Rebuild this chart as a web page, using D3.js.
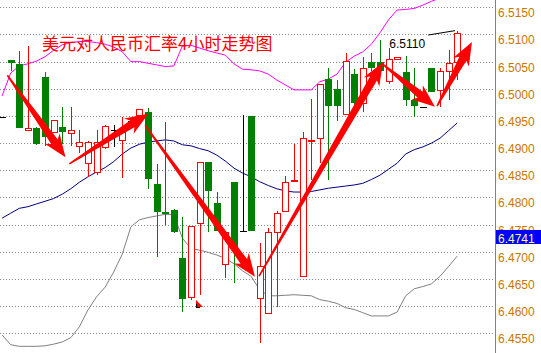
<!DOCTYPE html>
<html>
<head>
<meta charset="utf-8">
<script src="https://cdn.jsdelivr.net/npm/d3@7"></script>
<style>
  html, body { margin: 0; padding: 0; background: #fff; }
  svg { display: block; }
</style>
</head>
<body>
<div id="chart"></div>
<script>
const title = "美元对人民币汇率4小时走势图";

// 4h candles, oldest first
const open  = [6.4948, 6.5053, 6.5046, 6.4924, 6.4928, 6.5022, 6.4921, 6.4930, 6.4918, 6.4895,
               6.4863, 6.4847, 6.4893, 6.4924, 6.4906, 6.4940, 6.4952, 6.4957, 6.4825, 6.4773,
               6.4777, 6.4689, 6.4617, 6.4753, 6.4865, 6.4789, 6.4677, 6.4829, 6.4738, 6.4950,
               6.4615, 6.4587, 6.4736, 6.4776, 6.4831, 6.4656, 6.4905, 6.4909, 6.5018, 6.5000,
               6.4954, 6.5027, 6.4973, 6.5049, 6.5049, 6.5015, 6.5054, 6.5030, 6.4979, 6.4966,
               6.5038, 6.4998, 6.5033, 6.5050];
const high  = [6.4948, 6.5053, 6.5070, 6.5079, 6.4929, 6.5030, 6.4943, 6.4967, 6.4966, 6.4924,
               6.4904, 6.4924, 6.4934, 6.4934, 6.4949, 6.4945, 6.4963, 6.4964, 6.4862, 6.4938,
               6.4778, 6.4764, 6.4748, 6.4866, 6.4865, 6.4810, 6.4737, 6.4829, 6.4952, 6.4950,
               6.4716, 6.4744, 6.4776, 6.4840, 6.4898, 6.4920, 6.4981, 6.5008, 6.5038, 6.5016,
               6.5065, 6.5036, 6.5058, 6.5065, 6.5090, 6.5076, 6.5058, 6.5060, 6.5038, 6.4966,
               6.5038, 6.5038, 6.5071, 6.5107];
const low   = [6.4948, 6.5033, 6.4927, 6.4924, 6.4897, 6.4895, 6.4918, 6.4898, 6.4895, 6.4882,
               6.4838, 6.4841, 6.4890, 6.4895, 6.4835, 6.4935, 6.4951, 6.4815, 6.4690, 6.4749,
               6.4735, 6.4590, 6.4611, 6.4621, 6.4736, 6.4739, 6.4651, 6.4643, 6.4738, 6.4739,
               6.4533, 6.4587, 6.4599, 6.4776, 6.4828, 6.4656, 6.4832, 6.4863, 6.4832, 6.4941,
               6.4954, 6.4958, 6.4958, 6.5033, 6.5033, 6.5008, 6.5054, 6.4969, 6.4948, 6.4966,
               6.4994, 6.4967, 6.4979, 6.5016];
const close = [6.4948, 6.5047, 6.4928, 6.4928, 6.4898, 6.4912, 6.4943, 6.4921, 6.4924, 6.4903,
               6.4903, 6.4902, 6.4932, 6.4924, 6.4921, 6.4940, 6.4962, 6.4834, 6.4774, 6.4770,
               6.4736, 6.4613, 6.4748, 6.4866, 6.4811, 6.4739, 6.4737, 6.4707, 6.4738, 6.4739,
               6.4673, 6.4736, 6.4771, 6.4829, 6.4832, 6.4909, 6.4906, 6.5008, 6.4969, 6.4969,
               6.5052, 6.4973, 6.5038, 6.5039, 6.5033, 6.5054, 6.5058, 6.4979, 6.4969, 6.4966,
               6.4995, 6.5033, 6.5047, 6.5102];

// Bollinger bands
const bandUpper  = [6.4987, 6.5029, 6.5042, 6.5046, 6.5051, 6.5059, 6.5071, 6.5081, 6.5085, 6.5087,
                    6.5087, 6.5085, 6.5082, 6.5077, 6.5068, 6.5050, 6.5050, 6.5047, 6.5044, 6.5041,
                    6.5042, 6.5079, 6.5080, 6.5075, 6.5070, 6.5066, 6.5062, 6.5046, 6.5036, 6.5035,
                    6.5033, 6.5027, 6.5016, 6.5007, 6.4998, 6.4998, 6.4998, 6.5013, 6.5018, 6.5027,
                    6.5049, 6.5060, 6.5068, 6.5082, 6.5103, 6.5127, 6.5145, 6.5146, 6.5148, 6.5154,
                    6.5161, 6.5167, 6.5173, 6.5178];
const bandMiddle = [6.4762, 6.4771, 6.4780, 6.4783, 6.4788, 6.4793, 6.4798, 6.4806, 6.4816, 6.4828,
                    6.4838, 6.4847, 6.4855, 6.4866, 6.4880, 6.4891, 6.4898, 6.4902, 6.4904, 6.4906,
                    6.4904, 6.4897, 6.4895, 6.4890, 6.4886, 6.4878, 6.4867, 6.4854, 6.4845, 6.4838,
                    6.4829, 6.4822, 6.4816, 6.4812, 6.4810, 6.4810, 6.4811, 6.4814, 6.4817, 6.4819,
                    6.4821, 6.4823, 6.4826, 6.4833, 6.4841, 6.4852, 6.4863, 6.4880, 6.4888, 6.4893,
                    6.4900, 6.4909, 6.4923, 6.4937];
const bandLower  = [6.4547, 6.4529, 6.4526, 6.4526, 6.4526, 6.4527, 6.4530, 6.4534, 6.4542, 6.4562,
                    6.4593, 6.4617, 6.4635, 6.4663, 6.4696, 6.4746, 6.4759, 6.4763, 6.4766, 6.4769,
                    6.4768, 6.4725, 6.4706, 6.4703, 6.4699, 6.4694, 6.4688, 6.4678, 6.4665, 6.4655,
                    6.4630, 6.4619, 6.4619, 6.4620, 6.4621, 6.4620, 6.4619, 6.4612, 6.4609, 6.4605,
                    6.4597, 6.4594, 6.4588, 6.4582, 6.4582, 6.4582, 6.4589, 6.4619, 6.4632, 6.4636,
                    6.4641, 6.4655, 6.4673, 6.4692];

const yTicks = [6.5150, 6.5100, 6.5050, 6.5000, 6.4950, 6.4900, 6.4850, 6.4800,
                6.4750, 6.4700, 6.4650, 6.4600, 6.4550];
const lastPrice = 6.4741;
const markText = "6.5110";

// hand-drawn arrows: [fromIndex, fromPrice, toIndex, toPrice]
const arrows = [
    [0.61, 6.5025, 7.38, 6.4874],
    [7.83, 6.4862, 17.03, 6.4954],
    [16.65, 6.4933, 29.45, 6.4654],
    [29.92, 6.4655, 44.36, 6.5049],
    [44.2, 6.5047, 50.41, 6.4967],
    [50.65, 6.4968, 54.72, 6.5086]
];
const highLine = [[49.63, 6.5099], [52.74, 6.5107]];

const width = 541, height = 353, plotRight = 495;

const svg = d3.select("#chart").append("svg")
    .attr("width", width)
    .attr("height", height)
    .style("background", "#fff");

const x = d3.scaleLinear().domain([0, 53]).range([2.1, 457.2]);
const y = d3.scaleLinear().domain([6.4550, 6.5150]).range([333.3, 7.3]);

svg.append("clipPath").attr("id", "plot")
    .append("rect").attr("x", 0).attr("y", 0).attr("width", plotRight).attr("height", height);

// dotted grid
svg.append("g")
    .call(d3.axisLeft(y).tickValues(yTicks).tickSize(-plotRight).tickFormat(""))
    .call(g => g.select(".domain").remove())
    .call(g => g.selectAll(".tick line")
        .attr("stroke", "#8a8a8a")
        .attr("stroke-dasharray", "1,2")
        .attr("shape-rendering", "crispEdges"));

const plot = svg.append("g").attr("clip-path", "url(#plot)");

// bands
const bandLine = d3.line().x((d, i) => x(i)).y(d => y(d));
[[bandUpper, "#ff00ff"], [bandMiddle, "#000080"], [bandLower, "#808080"]].forEach(([data, col]) => {
    plot.append("path")
        .datum(data)
        .attr("fill", "none")
        .attr("stroke", col)
        .attr("stroke-width", 1)
        .attr("d", bandLine);
});

// candles
const candles = d3.range(open.length).map(i => ({ i, o: open[i], h: high[i], l: low[i], c: close[i] }));
const cg = plot.append("g").attr("shape-rendering", "crispEdges");

candles.forEach(d => {
    const cx = Math.round(x(d.i));
    const yh = Math.round(y(d.h)), yl = Math.round(y(d.l));
    const yt = Math.round(y(Math.max(d.o, d.c))), yb = Math.round(y(Math.min(d.o, d.c)));
    if (d.c > d.o) {
        const col = "#ff0000";
        if (yh < yt) cg.append("line").attr("x1", cx + 0.5).attr("x2", cx + 0.5).attr("y1", yh).attr("y2", yt).attr("stroke", col);
        if (yl > yb) cg.append("line").attr("x1", cx + 0.5).attr("x2", cx + 0.5).attr("y1", yb).attr("y2", yl).attr("stroke", col);
        cg.append("rect")
            .attr("x", cx - 2.5).attr("y", yt + 0.5)
            .attr("width", 6).attr("height", Math.max(1, yb - yt))
            .attr("fill", "#fff").attr("stroke", col);
    } else if (d.c < d.o) {
        const col = "#008000";
        cg.append("line").attr("x1", cx + 0.5).attr("x2", cx + 0.5).attr("y1", yh).attr("y2", yl).attr("stroke", col);
        cg.append("rect")
            .attr("x", cx - 3).attr("y", yt)
            .attr("width", 7).attr("height", Math.max(1, yb - yt))
            .attr("fill", col);
    } else {
        cg.append("line").attr("x1", cx + 0.5).attr("x2", cx + 0.5).attr("y1", yh).attr("y2", yl + 1).attr("stroke", "#000");
        cg.append("line").attr("x1", cx - 3).attr("x2", cx + 4).attr("y1", yt + 0.5).attr("y2", yt + 0.5).attr("stroke", "#000");
    }
});

// short black line near last highs
plot.append("path")
    .datum(highLine)
    .attr("fill", "none")
    .attr("stroke", "#000")
    .attr("d", d3.line().x(d => x(d[0])).y(d => y(d[1])));

// small red marker
const mx = x(22.93), my = y(6.4602);
plot.append("path")
    .attr("d", `M${mx - 3},${my - 5} L${mx + 4},${my + 2} L${mx - 3},${my + 2} Z`)
    .attr("fill", "#ff0000");
plot.append("path")
    .attr("d", `M${mx - 3},${my + 2.5} L${mx + 1},${my + 2.5} M${mx - 2.5},${my - 1} L${mx - 2.5},${my + 3}`)
    .attr("stroke", "#000").attr("fill", "none");

// arrows
const tailW = 1.5, shaftW = 8, headW = 18, headLen = 19, barb = 4;
function arrowPoints(a) {
    const x0 = x(a[0]), y0 = y(a[1]), x1 = x(a[2]), y1 = y(a[3]);
    const len = Math.hypot(x1 - x0, y1 - y0);
    const ux = (x1 - x0) / len, uy = (y1 - y0) / len;
    const nx = -uy, ny = ux;
    const bx = x1 - ux * headLen, by = y1 - uy * headLen;
    const wx = bx - ux * barb, wy = by - uy * barb;
    return [
        [x0 + nx * tailW / 2, y0 + ny * tailW / 2],
        [bx + nx * shaftW / 2, by + ny * shaftW / 2],
        [wx + nx * headW / 2, wy + ny * headW / 2],
        [x1, y1],
        [wx - nx * headW / 2, wy - ny * headW / 2],
        [bx - nx * shaftW / 2, by - ny * shaftW / 2],
        [x0 - nx * tailW / 2, y0 - ny * tailW / 2]
    ];
}
svg.append("g").selectAll("path")
    .data(arrows)
    .join("path")
    .attr("d", d => d3.line()(arrowPoints(d)) + "Z")
    .attr("fill", "#ff0000");

// title and price note
svg.append("text")
    .attr("x", 42).attr("y", 50)
    .attr("font-family", "'Noto Sans CJK SC', sans-serif")
    .attr("font-size", 17)
    .attr("fill", "#ff0000")
    .text(title);

svg.append("text")
    .attr("x", x(45.1)).attr("y", y(6.5075))
    .attr("font-family", "'Liberation Sans', Arial, sans-serif")
    .attr("font-size", 12)
    .attr("fill", "#000")
    .text(markText);

// right price axis
svg.append("g")
    .attr("transform", `translate(${plotRight},0)`)
    .call(d3.axisRight(y).tickValues(yTicks).tickSize(0).tickPadding(3).tickFormat(d3.format(".4f")))
    .call(g => g.select(".domain").remove())
    .call(g => g.selectAll("text")
        .attr("dy", "0.78em")
        .attr("fill", "#c87800")
        .attr("font-family", "'Liberation Sans', Arial, sans-serif")
        .attr("font-size", 12));

svg.append("line")
    .attr("x1", plotRight + 0.5).attr("x2", plotRight + 0.5)
    .attr("y1", 0).attr("y2", height)
    .attr("stroke", "#808080");

// last price tag
const ty = Math.round(y(lastPrice));
svg.append("rect")
    .attr("x", plotRight + 1).attr("y", ty)
    .attr("width", width - plotRight - 1).attr("height", 14)
    .attr("fill", "#0000ff");
svg.append("text")
    .attr("x", plotRight + 3).attr("y", ty + 12.5)
    .attr("font-family", "'Liberation Sans', Arial, sans-serif")
    .attr("font-size", 12)
    .attr("fill", "#ffff80")
    .text(d3.format(".4f")(lastPrice));
</script>
</body>
</html>
